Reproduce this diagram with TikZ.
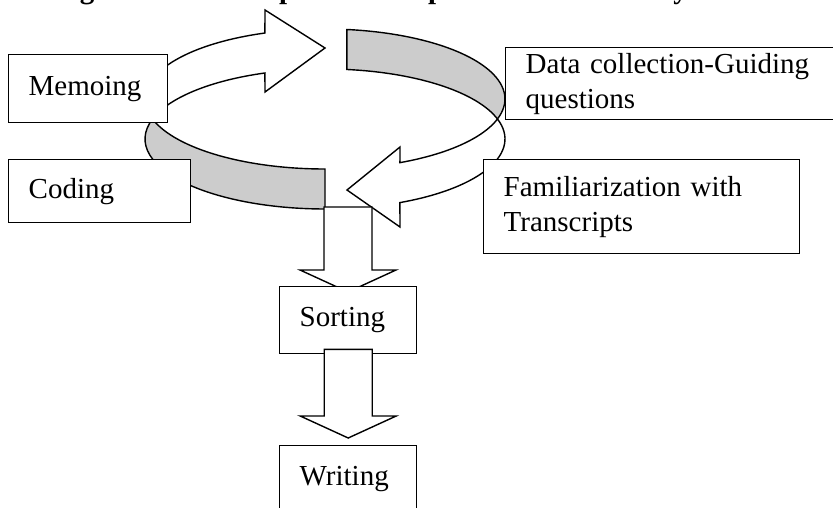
\documentclass[tikz,border=0pt]{standalone}
\usepackage{fontspec}
\setmainfont{Liberation Serif}
\usetikzlibrary{calc}

\tikzset{
  stepbox/.style={draw, line width=1.4pt, fill=white, align=left, anchor=north west,
    inner xsep=20pt, inner ysep=0pt, font=\fontsize{29}{35}\selectfont},
  band/.style={draw, line width=1.4pt, line join=miter},
  blockarrow/.style={draw, line width=1.4pt, fill=white, line join=miter},
}

\begin{document}
\begin{tikzpicture}[x=1pt, y=-1pt]
  \useasboundingbox (0,0) rectangle (833,508);
  \clip (0,0) rectangle (833,508);

  % caption, cut off by the top edge
  \node[anchor=south west, inner sep=0pt, font=\fontsize{29}{35}\selectfont\bfseries] (caption) at (54,5)
      {Figure 1: A description of the process of data analysis};

  % the ring: upper ellipse centre (325,99), lower one 40 further down
  \draw[band, fill=gray!40] (346.9,29.5) arc[start angle=-83, end angle=16.6, x radius=180, y radius=70]
      arc[start angle=-16.6, end angle=-83, x radius=180, y radius=70] -- cycle;
  \draw[band, fill=white] (152.5,119) arc[start angle=163.4, end angle=250.5, x radius=180, y radius=70]
      -- (265,10) -- (325,48) -- (265,92) -- (264.9,73)
      arc[start angle=250.5, end angle=196.6, x radius=180, y radius=70] -- cycle;
  \draw[band, fill=gray!40] (325,169) arc[start angle=90, end angle=163.4, x radius=180, y radius=70]
      arc[start angle=196.6, end angle=90, x radius=180, y radius=70] -- cycle;
  \draw[band, fill=white] (497.5,119) arc[start angle=16.6, end angle=65.4, x radius=180, y radius=70]
      -- (400,147) -- (347,190) -- (400,227) -- (399.9,202.6)
      arc[start angle=65.4, end angle=-16.6, x radius=180, y radius=70] -- cycle;

  \coordinate (ringfoot) at (348,207);

  \node[stepbox, text width=119pt, minimum height=68pt] (memoing) at (8,54) {Memoing};
  \node[stepbox, text width=142pt, minimum height=63pt] (coding) at (8,159) {Coding};
  \node[stepbox, text width=300pt, minimum height=72pt] (datacoll) at (505,47) {Data collection-Guiding\\questions};
  \node[stepbox, text width=276pt, minimum height=94pt] (familiar) at (483,159) {Familiarization with\\Transcripts};

  \coordinate (tipA) at (348,292);
  \draw[blockarrow] ($(ringfoot)+(-24,0)$) -- ($(tipA)+(-24,-22)$) -- ($(tipA)+(-48,-22)$) -- (tipA)
      -- ($(tipA)+(48,-22)$) -- ($(tipA)+(24,-22)$) -- ($(ringfoot)+(24,0)$) -- cycle;

  \node[stepbox, text width=97pt, minimum height=67pt] (sorting) at (279,286) {Sorting};
  \node[stepbox, text width=97pt, minimum height=67pt] (writing) at (279,445) {Writing};

  \coordinate (topB) at ($(sorting.south)+(0,-5)$);
  \coordinate (tipB) at ($(writing.north)+(0,-7)$);
  \draw[blockarrow] ($(topB)+(-24,0)$) -- ($(tipB)+(-24,-22)$) -- ($(tipB)+(-48,-22)$) -- (tipB)
      -- ($(tipB)+(48,-22)$) -- ($(tipB)+(24,-22)$) -- ($(topB)+(24,0)$) -- cycle;
\end{tikzpicture}
\end{document}
